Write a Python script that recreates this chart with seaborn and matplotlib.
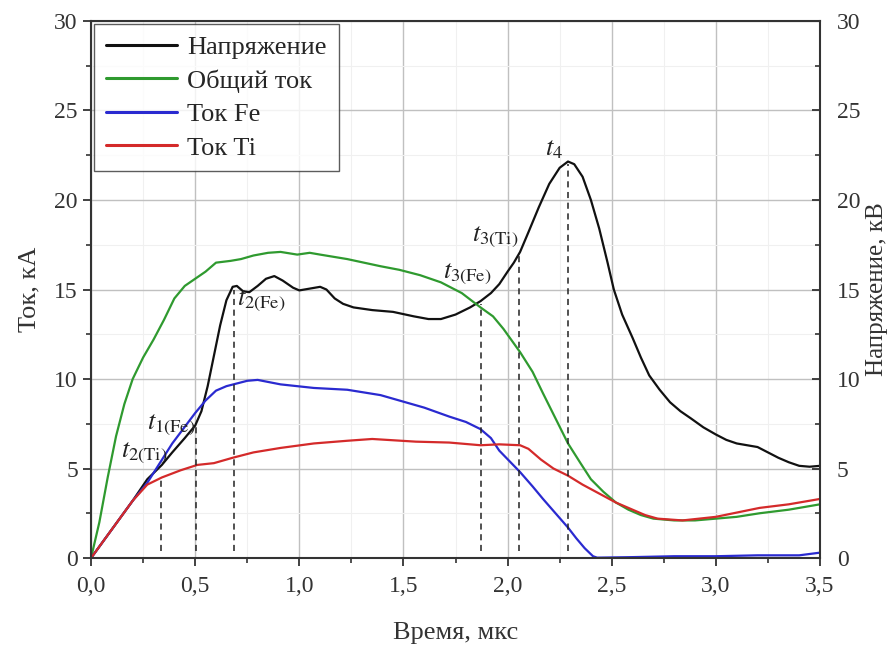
import pandas as pd
import matplotlib.pyplot as plt
import seaborn as sns
import numpy as np
from matplotlib.ticker import MultipleLocator, FuncFormatter

sns.set_style("ticks")
plt.rcParams['font.family'] = ['Liberation Serif', 'DejaVu Serif']
plt.rcParams['mathtext.fontset'] = 'stix'

# ---------------------------------------------------------
# Data (time in us, current kA / voltage kV)
# ---------------------------------------------------------
t_volt = [0, 0.1, 0.2, 0.27, 0.34, 0.39, 0.45, 0.5, 0.53, 0.56, 0.59, 0.62, 0.65, 0.68,
          0.7, 0.73, 0.76, 0.8, 0.84, 0.88, 0.92, 0.97, 1.0, 1.05, 1.1, 1.13, 1.17, 1.21,
          1.26, 1.35, 1.45, 1.55, 1.62, 1.68, 1.75, 1.82, 1.87, 1.92, 1.96, 2.0, 2.03,
          2.06, 2.1, 2.15, 2.2, 2.25, 2.29, 2.32, 2.36, 2.4, 2.44, 2.48, 2.51, 2.55,
          2.6, 2.64, 2.68, 2.73, 2.78, 2.83, 2.88, 2.94, 3.0, 3.05, 3.1, 3.15, 3.2,
          3.25, 3.3, 3.35, 3.4, 3.45, 3.5]
volt = [0, 1.6, 3.2, 4.4, 5.2, 5.9, 6.7, 7.4, 8.2, 9.6, 11.3, 13.0, 14.4, 15.15,
        15.2, 14.9, 14.85, 15.2, 15.6, 15.75, 15.5, 15.1, 14.95, 15.05, 15.15, 15.0, 14.5, 14.2,
        14.0, 13.85, 13.75, 13.5, 13.35, 13.35, 13.6, 14.0, 14.35, 14.8, 15.3, 16.0, 16.5,
        17.1, 18.2, 19.6, 20.9, 21.8, 22.15, 22.0, 21.3, 20.0, 18.4, 16.5, 15.0, 13.6,
        12.3, 11.2, 10.2, 9.4, 8.7, 8.2, 7.8, 7.3, 6.9, 6.6, 6.4, 6.3, 6.2,
        5.9, 5.6, 5.35, 5.15, 5.1, 5.15]

t_total = [0, 0.04, 0.08, 0.12, 0.16, 0.2, 0.25, 0.3, 0.35, 0.4, 0.45, 0.5, 0.55, 0.6,
           0.67, 0.72, 0.78, 0.85, 0.91, 0.99, 1.05, 1.1, 1.23, 1.39, 1.48, 1.58,
           1.68, 1.78, 1.87, 1.93, 1.98, 2.06, 2.12, 2.17, 2.23, 2.29, 2.35, 2.4,
           2.46, 2.52, 2.58, 2.64, 2.7, 2.8, 2.9, 3.0, 3.1, 3.21, 3.35, 3.5]
total = [0, 2.0, 4.5, 6.8, 8.6, 10.0, 11.2, 12.2, 13.3, 14.5, 15.2, 15.6, 16.0, 16.5,
         16.6, 16.7, 16.9, 17.05, 17.1, 16.95, 17.05, 16.95, 16.7, 16.3, 16.1, 15.8,
         15.4, 14.8, 14.0, 13.5, 12.8, 11.5, 10.4, 9.2, 7.8, 6.4, 5.3, 4.4,
         3.7, 3.1, 2.7, 2.4, 2.2, 2.1, 2.1, 2.2, 2.3, 2.5, 2.7, 3.0]

t_fe = [0, 0.1, 0.2, 0.27, 0.39, 0.5, 0.55, 0.6, 0.65, 0.7, 0.75, 0.8, 0.91, 1.07,
        1.23, 1.39, 1.48, 1.6, 1.72, 1.8, 1.87, 1.92, 1.96, 2.01, 2.06, 2.12, 2.17,
        2.23, 2.29, 2.33, 2.37, 2.41, 2.43, 2.6, 2.8, 3.0, 3.2, 3.4, 3.5]
fe = [0, 1.6, 3.2, 4.2, 6.4, 8.1, 8.8, 9.35, 9.6, 9.75, 9.9, 9.95, 9.7, 9.5,
      9.4, 9.1, 8.8, 8.4, 7.9, 7.6, 7.2, 6.7, 6.0, 5.4, 4.8, 4.0, 3.3,
      2.5, 1.7, 1.1, 0.55, 0.1, 0.02, 0.05, 0.1, 0.1, 0.15, 0.15, 0.3]

t_ti = [0, 0.1, 0.2, 0.27, 0.34, 0.43, 0.51, 0.59, 0.68, 0.78, 0.91, 1.07, 1.23,
        1.35, 1.56, 1.72, 1.87, 1.96, 2.06, 2.1, 2.16, 2.22, 2.29, 2.36, 2.44, 2.52,
        2.6, 2.66, 2.72, 2.84, 3.0, 3.21, 3.35, 3.5]
ti = [0, 1.6, 3.2, 4.1, 4.5, 4.9, 5.2, 5.3, 5.6, 5.9, 6.15, 6.4, 6.55,
      6.65, 6.5, 6.45, 6.3, 6.35, 6.3, 6.1, 5.5, 5.0, 4.6, 4.1, 3.6, 3.1,
      2.7, 2.4, 2.2, 2.1, 2.3, 2.8, 3.0, 3.3]

series_names = ['Напряжение', 'Общий ток', 'Ток Fe', 'Ток Ti']
series_colors = ['#111111', '#2f9a2f', '#2a2ad0', '#d42a2a']

# characteristic moments (dashed markers) and their labels
mark_t = [0.336, 0.504, 0.687, 1.872, 2.055, 2.29]
mark_top = [4.5, 7.4, 15.0, 14.2, 16.9, 22.0]
label_text = [r'$t_{2\mathrm{(Ti)}}$', r'$t_{1\mathrm{(Fe)}}$', r'$t_{2\mathrm{(Fe)}}$',
              r'$t_{3\mathrm{(Fe)}}$', r'$t_{3\mathrm{(Ti)}}$', r'$t_{4}$']
label_x = [0.145, 0.27, 0.7, 1.69, 1.83, 2.18]
label_y = [5.6, 7.2, 14.1, 15.6, 17.7, 22.5]

# ---------------------------------------------------------
# Long-form table for seaborn
# ---------------------------------------------------------
frames = []
for name, tt, vv in zip(series_names, [t_volt, t_total, t_fe, t_ti], [volt, total, fe, ti]):
    frames.append(pd.DataFrame({'t': tt, 'val': vv, 'series': name}))
df = pd.concat(frames, ignore_index=True)

fig = plt.figure(figsize=(8.96, 6.46), dpi=100)
ax = fig.add_axes([0.1016, 0.1362, 0.8136, 0.8313])

sns.lineplot(data=df, x='t', y='val', hue='series', hue_order=series_names,
             palette=series_colors, linewidth=1.6, ax=ax, sort=False, estimator=None)

ax.vlines(mark_t, 0.4, mark_top, colors='#222222', linestyles=(0, (4, 3)), linewidth=1.1)
for s, x, y in zip(label_text, label_x, label_y):
    ax.text(x, y, s, fontsize=19, color='#222222', ha='left', va='baseline')

ax.set_xlim(0, 3.5)
ax.set_ylim(0, 30)
ax.xaxis.set_major_locator(MultipleLocator(0.5))
ax.xaxis.set_minor_locator(MultipleLocator(0.25))
ax.yaxis.set_major_locator(MultipleLocator(5))
ax.yaxis.set_minor_locator(MultipleLocator(2.5))
ax.xaxis.set_major_formatter(FuncFormatter(lambda v, p: f"{v:.1f}".replace('.', ',')))
ax.grid(True, which='major', color='#c0c0c0', linewidth=1.0)
ax.grid(True, which='minor', color='#f0f0f0', linewidth=0.8)
ax.set_axisbelow(True)
ax.tick_params(which='major', direction='out', length=6, width=1.3, labelsize=17,
               color='#333333', labelcolor='#333333')
ax.tick_params(which='minor', direction='out', length=3.5, width=1.2, color='#333333')
ax.tick_params(axis='x', pad=7)
for sp in ax.spines.values():
    sp.set_linewidth(1.5)
    sp.set_color('#333333')

ax.set_xlabel('Время, мкс', fontsize=19, labelpad=18, color='#333333')
ax.set_ylabel('Ток, кА', fontsize=19, labelpad=10, color='#333333')

ax2 = ax.twinx()
ax2.set_ylim(0, 30)
ax2.yaxis.set_major_locator(MultipleLocator(5))
ax2.yaxis.set_minor_locator(MultipleLocator(2.5))
ax2.tick_params(which='major', direction='in', length=6, width=1.3, labelsize=17,
                color='#333333', labelcolor='#333333', pad=12)
ax2.tick_params(which='minor', direction='in', length=3.5, width=1.2, color='#333333')
ax2.grid(False)
for sp in ax2.spines.values():
    sp.set_visible(False)
ax2.set_ylabel('Напряжение, кВ', fontsize=18, labelpad=4, color='#333333')

leg = ax.legend(loc='upper left', fontsize=19, frameon=True, fancybox=False,
                edgecolor='#333333', handlelength=2.7, handletextpad=0.4, borderpad=0.45,
                labelspacing=0.38, borderaxespad=0.1)
leg.get_frame().set_linewidth(1.0)
for line in leg.get_lines():
    line.set_linewidth(2.2)

fig.savefig('out.png', dpi=100)
